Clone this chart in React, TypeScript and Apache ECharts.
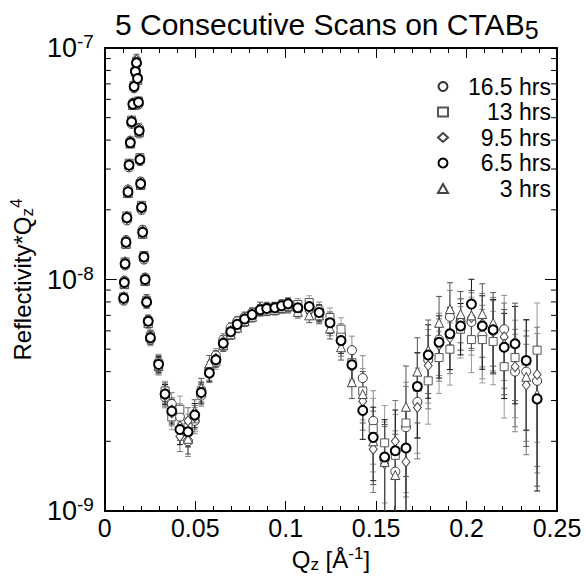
import React, { useEffect, useRef } from 'react';
import * as echarts from 'echarts';

const FONT = '"Liberation Sans", Arial, Helvetica, sans-serif';
const UNIT = 1e-9; // series values below are in units of 1e-9

const Q = [
  0.0104, 0.0108, 0.0112, 0.0117, 0.0122, 0.0128, 0.0134, 0.0141, 0.0148, 0.0155, 0.0162, 0.0169, 0.0175,
  0.0181, 0.0186, 0.0190, 0.0194, 0.0198, 0.0203, 0.0209, 0.0216, 0.0223, 0.0231, 0.0240, 0.0252,
  0.0297, 0.0333, 0.0370, 0.0415, 0.0460, 0.0497, 0.0533, 0.0578, 0.0614, 0.0655, 0.0696, 0.0732, 0.0773,
  0.0814, 0.0859, 0.0895, 0.0940, 0.0977, 0.1013, 0.1067, 0.1130, 0.1185, 0.1245, 0.1306, 0.1366,
  0.1426, 0.1484, 0.1547, 0.1606, 0.1665, 0.1728, 0.1788, 0.1848, 0.1908, 0.1967, 0.2027, 0.2087,
  0.2147, 0.2208, 0.2268, 0.2330, 0.2390,
];

const S_16_5 = [
  8.1, 9.9, 11.5, 14.8, 18.0, 24.5, 30.5, 39.8, 47.0, 58.0, 67.0, 80.5, 85.0,
  75.0, 57.0, 45.0, 32.5, 26.5, 20.0, 16.4, 12.2, 10.2, 7.9, 6.7, 5.5,
  4.4, 3.1, 2.9, 2.55, 2.0, 2.45, 3.15, 4.1, 4.7, 5.5, 6.2, 6.6, 6.9,
  7.2, 7.3, 7.6, 7.45, 7.8, 7.7, 7.4, 7.5, 7.4, 6.6, 5.75, 4.95,
  3.75, 2.45, 1.67, 1.48, 2.3, 2.96, 4.5, 5.5, 6.9, 6.6, 6.55, 5.73,
  6.0, 6.1, 4.0, 4.0, 3.65,
];
const S_13 = [
  8.4, 9.5, 11.9, 14.2, 18.8, 23.5, 31.8, 38.5, 48.8, 56.5, 69.0, 78.5, 87.5,
  72.5, 59.0, 43.0, 33.6, 25.5, 20.9, 15.7, 12.7, 9.8, 8.1, 6.5, 5.7,
  4.2, 3.3, 2.55, 2.75, 2.3, 2.5, 3.3, 4.0, 4.4, 5.25, 5.85, 6.3, 6.6,
  7.0, 7.3, 7.4, 7.6, 7.5, 7.6, 7.8, 7.95, 7.1, 6.85, 6.1, 4.37,
  3.3, 2.27, 1.97, 1.74, 2.4, 3.43, 3.65, 4.6, 5.0, 6.1, 5.5, 5.5,
  5.4, 4.2, 4.6, 4.45, 4.95,
];
const S_9_5 = [
  8.2, 9.8, 11.6, 14.6, 18.3, 24.2, 31.0, 39.4, 47.5, 57.8, 67.5, 79.8, 88.0,
  74.5, 57.5, 44.5, 32.8, 26.2, 20.2, 16.2, 12.4, 10.1, 7.9, 6.6, 5.6,
  4.35, 3.15, 2.65, 2.1, 2.45, 2.55, 3.2, 3.9, 4.55, 5.4, 6.0, 6.35, 6.8,
  7.1, 7.35, 7.45, 7.5, 7.6, 7.75, 7.5, 7.3, 7.15, 6.35, 5.3, 4.2,
  2.98, 1.85, 1.6, 2.0, 1.63, 2.8, 4.25, 5.2, 5.6, 6.6, 6.85, 6.45,
  6.2, 5.65, 4.2, 3.5, 3.89,
];
const S_6_5 = [
  8.3, 9.7, 11.7, 14.5, 18.5, 23.9, 31.2, 39.0, 48.0, 57.2, 68.2, 79.1, 86.3,
  73.8, 58.3, 43.9, 33.0, 25.9, 20.5, 16.0, 12.5, 10.0, 8.0, 6.6, 5.6,
  4.3, 3.2, 2.7, 2.25, 2.2, 2.6, 3.25, 3.95, 4.5, 5.3, 5.95, 6.4, 6.75,
  7.05, 7.4, 7.5, 7.55, 7.7, 7.85, 7.55, 7.65, 7.2, 6.5, 5.45, 4.28,
  2.72, 2.08, 1.71, 1.82, 1.87, 3.45, 4.72, 5.36, 5.83, 6.3, 7.83, 6.3,
  6.07, 5.1, 5.28, 4.47, 3.05,
];
const S_3 = [
  8.5, 9.6, 12.0, 14.3, 18.9, 23.7, 31.5, 38.8, 49.0, 56.8, 69.5, 81.5, 89.5,
  73.0, 58.8, 43.5, 33.3, 25.7, 20.7, 15.8, 12.6, 9.9, 8.2, 6.5, 5.7,
  4.25, 3.25, 2.75, 2.35, 2.05, 2.7, 3.4, 4.35, 4.6, 5.2, 5.8, 6.2, 6.6,
  6.9, 7.6, 7.35, 7.4, 7.55, 7.7, 7.25, 7.0, 7.0, 6.15, 5.1, 3.6,
  3.2, 2.0, 1.63, 1.43, 2.82, 4.0, 4.95, 6.5, 7.45, 7.1, 7.0, 7.1,
  6.5, 5.3, 5.45, 3.8, 3.2,
];

// relative (fractional) uncertainty at each Q point
const REL_ERR = [
  0.03, 0.03, 0.03, 0.03, 0.03, 0.03, 0.03, 0.03, 0.03, 0.03, 0.03, 0.04, 0.05,
  0.04, 0.04, 0.05, 0.04, 0.04, 0.04, 0.04, 0.04, 0.04, 0.05, 0.05, 0.06,
  0.08, 0.1, 0.12, 0.14, 0.14, 0.12, 0.1, 0.08, 0.07, 0.06, 0.05, 0.05, 0.05,
  0.05, 0.05, 0.05, 0.05, 0.05, 0.06, 0.06, 0.07, 0.08, 0.1, 0.12, 0.15,
  0.25, 0.35, 0.45, 0.5, 0.5, 0.4, 0.35, 0.3, 0.3, 0.25, 0.28, 0.35,
  0.35, 0.4, 0.45, 0.5, 0.6,
];

const Y_MIN = 1e-9;
const Y_MAX = 1e-7;
const Y_MINOR_TICKS = [
  2e-9, 3e-9, 4e-9, 5e-9, 6e-9, 7e-9, 8e-9, 9e-9,
  2e-8, 3e-8, 4e-8, 5e-8, 6e-8, 7e-8, 8e-8, 9e-8,
];

const SERIES = [
  { name: '16.5 hrs', values: S_16_5, symbol: 'circle', size: 9, border: '#333', bw: 1, err: '#888', order: 1 },
  { name: '13 hrs', values: S_13, symbol: 'rect', size: 8, border: '#555', bw: 1, err: '#9a9a9a', order: 2 },
  { name: '9.5 hrs', values: S_9_5, symbol: 'diamond', size: [8, 10], border: '#444', bw: 1, err: '#777', order: 3 },
  { name: '6.5 hrs', values: S_6_5, symbol: 'circle', size: 9, border: '#000', bw: 2, err: '#111', order: 5 },
  { name: '3 hrs', values: S_3, symbol: 'triangle', size: 9, border: '#444', bw: 1, err: '#555', order: 4 },
];

function errorRenderer(color: string) {
  return (params: any, api: any) => {
    const x = api.value(0);
    const lo = api.value(1);
    const hi = api.value(2);
    const cs = params.coordSys;
    const top = cs.y;
    const bottom = cs.y + cs.height;
    const pHi = api.coord([x, hi]);
    const cx = pHi[0];
    const yHi = Math.max(pHi[1], top);
    let yLo = bottom;
    let capLo = false;
    if (lo > Y_MIN) {
      yLo = api.coord([x, lo])[1];
      capLo = true;
    }
    const hw = 3;
    const st = { stroke: color, lineWidth: 1 };
    const children: any[] = [
      { type: 'line', shape: { x1: cx, y1: yHi, x2: cx, y2: yLo }, style: st },
      { type: 'line', shape: { x1: cx - hw, y1: yHi, x2: cx + hw, y2: yHi }, style: st },
    ];
    if (capLo) {
      children.push({ type: 'line', shape: { x1: cx - hw, y1: yLo, x2: cx + hw, y2: yLo }, style: st });
    }
    return { type: 'group', children };
  };
}

const supRich = {
  b: { fontSize: 27, fontFamily: FONT, color: '#000', lineHeight: 32 },
  p: { fontSize: 19, fontFamily: FONT, color: '#000', lineHeight: 18, verticalAlign: 'top' },
};

const nameRich = {
  s: { fontFamily: FONT, fontSize: 17, color: '#000', lineHeight: 15, verticalAlign: 'bottom' },
  p: { fontFamily: FONT, fontSize: 17, color: '#000', lineHeight: 15, verticalAlign: 'top' },
};

export default function App() {
  const ref = useRef<HTMLDivElement>(null);
  useEffect(() => {
    if (!ref.current) return;
    const chart = echarts.init(ref.current, null, { renderer: 'svg' });

    const errorSeries = SERIES.map((s) => ({
      type: 'custom',
      name: s.name + ' err',
      xAxisIndex: 0,
      yAxisIndex: 0,
      z: 2,
      silent: true,
      clip: true,
      encode: { x: 0, y: [1, 2] },
      renderItem: errorRenderer(s.err),
      data: Q.map((q, i) => {
        const v = s.values[i] * UNIT;
        const d = v * REL_ERR[i];
        return [q, Math.max(v - d, Y_MIN * 0.5), v + d];
      }),
    }));

    const scatterSeries = [...SERIES]
      .sort((a, b) => a.order - b.order)
      .map((s) => ({
        type: 'scatter',
        name: s.name,
        xAxisIndex: 0,
        yAxisIndex: 0,
        z: 3,
        symbol: s.symbol,
        symbolSize: s.size,
        itemStyle: { color: '#fff', borderColor: s.border, borderWidth: s.bw, opacity: 1 },
        data: Q.map((q, i) => [q, s.values[i] * UNIT]),
      }));

    const minorTickSeries = {
      type: 'custom',
      name: 'yminor',
      xAxisIndex: 0,
      yAxisIndex: 0,
      z: 5,
      silent: true,
      encode: { x: 0, y: 1 },
      renderItem: (params: any, api: any) => {
        const v = api.value(1);
        const cs = params.coordSys;
        const y = api.coord([0, v])[1];
        const st = { stroke: '#000', lineWidth: 1 };
        return {
          type: 'group',
          children: [
            { type: 'line', shape: { x1: cs.x, y1: y, x2: cs.x + 6, y2: y }, style: st },
            { type: 'line', shape: { x1: cs.x + cs.width - 6, y1: y, x2: cs.x + cs.width, y2: y }, style: st },
          ],
        };
      },
      data: Y_MINOR_TICKS.map((v) => [0, v]),
    };

    const xCommon = {
      type: 'value',
      min: 0,
      max: 0.25,
      interval: 0.05,
      axisLine: { show: true, onZero: false, lineStyle: { color: '#000', width: 2 } },
      axisTick: { show: true, inside: true, length: 10, lineStyle: { color: '#000', width: 1 } },
      minorTick: { show: true, splitNumber: 5, length: 5, lineStyle: { color: '#000', width: 1 } },
      splitLine: { show: false },
      minorSplitLine: { show: false },
    };
    const yCommon = {
      type: 'log',
      logBase: 10,
      min: Y_MIN,
      max: Y_MAX,
      axisLine: { show: true, onZero: false, lineStyle: { color: '#000', width: 2 } },
      axisTick: { show: true, inside: true, length: 12, lineStyle: { color: '#000', width: 1 } },
      splitLine: { show: false },
    };

    const option: any = {
      animation: false,
      backgroundColor: '#fff',
      textStyle: { fontFamily: FONT },
      title: {
        text: '5 Consecutive Scans on CTAB{s|5}',
        left: 110,
        top: 1,
        textStyle: {
          fontFamily: FONT,
          fontSize: 30,
          fontWeight: 'normal',
          color: '#000',
          lineHeight: 36,
          rich: {
            s: { fontFamily: FONT, fontSize: 25, color: '#000', lineHeight: 22, verticalAlign: 'bottom' },
          },
        },
      },
      legend: {
        data: SERIES.map((s) => s.name),
        orient: 'vertical',
        left: 432,
        top: 70,
        itemWidth: 10,
        itemHeight: 9,
        itemGap: 2.5,
        selectedMode: false,
        formatter: (name: string) => `{t|${name}}`,
        textStyle: {
          rich: {
            t: { fontFamily: FONT, fontSize: 23, color: '#000', width: 98, align: 'right', lineHeight: 22 },
          },
        },
      },
      grid: { left: 97, right: 29, top: 48, bottom: 60, containLabel: false },
      xAxis: [
        {
          ...xCommon,
          position: 'bottom',
          name: 'Q{s|z} [Å{p|-1}]',
          nameLocation: 'middle',
          nameGap: 34,
          nameTextStyle: {
            fontFamily: FONT,
            fontSize: 24,
            color: '#000',
            lineHeight: 28,
            rich: nameRich,
          },
          axisLabel: {
            show: true,
            margin: 4,
            fontFamily: FONT,
            fontSize: 25,
            color: '#000',
            formatter: (v: number) => String(parseFloat(v.toFixed(2))),
          },
        },
        { ...xCommon, position: 'top', axisLabel: { show: false } },
      ],
      yAxis: [
        {
          ...yCommon,
          position: 'left',
          name: 'Reflectivity*Q{s|z}{p|4}',
          nameLocation: 'middle',
          nameGap: 62,
          nameTextStyle: {
            fontFamily: FONT,
            fontSize: 24,
            color: '#000',
            lineHeight: 28,
            rich: nameRich,
          },
          axisLabel: {
            show: true,
            margin: 11,
            formatter: (v: number) => `{b|10}{p|${Math.round(Math.log10(v))}}`,
            rich: supRich,
          },
        },
        { ...yCommon, position: 'right', axisLabel: { show: false } },
      ],
      series: [...errorSeries, minorTickSeries, ...scatterSeries],
    };

    chart.setOption(option);
    return () => chart.dispose();
  }, []);

  return <div ref={ref} style={{ position: 'fixed', left: 0, top: 0, width: 586, height: 578 }} />;
}
